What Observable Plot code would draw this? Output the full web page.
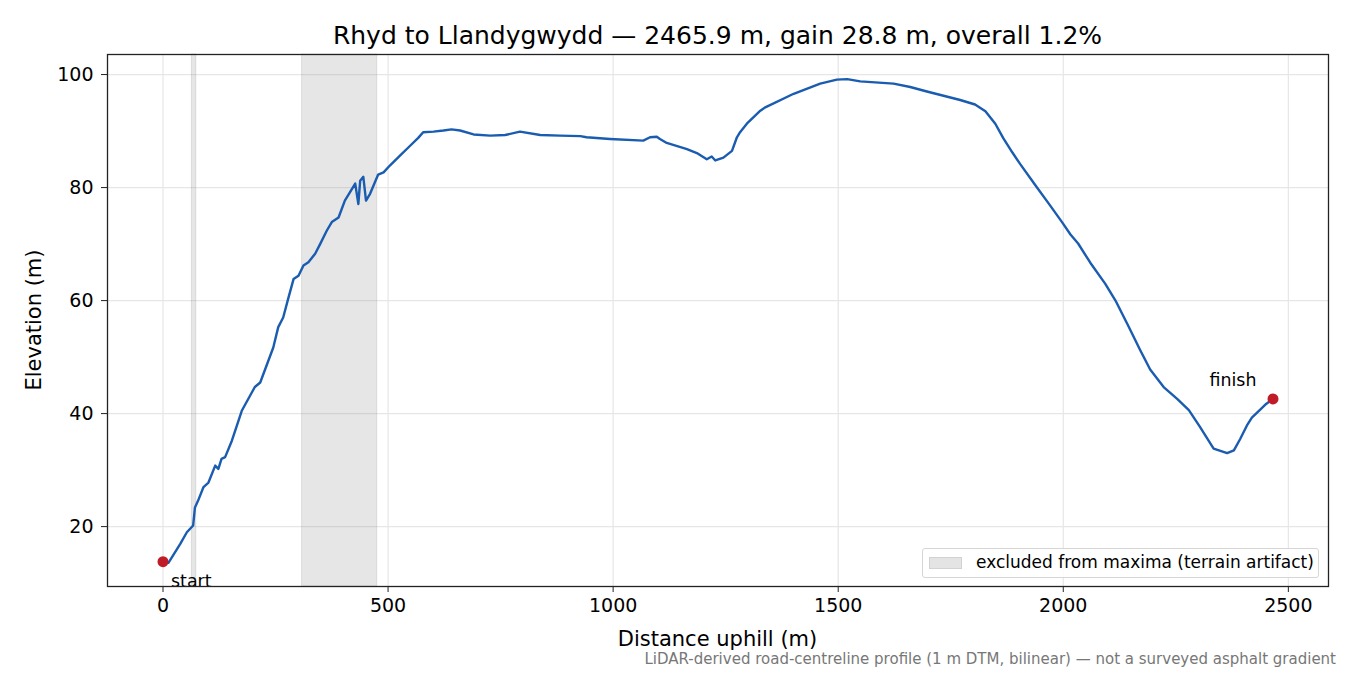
<!DOCTYPE html>
<html>
<head>
<meta charset="utf-8">
<script src="https://cdn.jsdelivr.net/npm/d3@7"></script>
<script src="https://cdn.jsdelivr.net/npm/@observablehq/plot@0.6"></script>
<style>
  html, body { margin: 0; padding: 0; background: #fff; }
  #wrap { position: relative; width: 1350px; height: 675px; font-family: "DejaVu Sans", sans-serif; color: #000; }
  #wrap svg { position: absolute; left: 0; top: 0; }
  .t { position: absolute; white-space: nowrap; line-height: 1; }
  #title { left: 0; width: 1435px; text-align: center; top: 22.5px; font-size: 25px; }
  #xlabel { left: 0; width: 1435px; text-align: center; top: 629px; font-size: 21px; }
  #ylabel { left: 34px; top: 320px; font-size: 21px; transform: translate(-50%, -50%) rotate(-90deg); }
  #caption { right: 14px; top: 651.5px; font-size: 15px; color: #777; }
  #legend { left: 922px; top: 548px; width: 397px; height: 30px; border: 1px solid #d6d6d6; border-radius: 3px; background: rgba(255,255,255,0.85); box-sizing: border-box; }
  #legend .sw { position: absolute; left: 6px; top: 8px; width: 33px; height: 12px; background: #e4e4e4; border: 1px solid #d2d2d2; box-sizing: border-box; }
  #legend .lt { position: absolute; left: 53px; top: 5px; font-size: 17px; }
</style>
</head>
<body>
<div id="wrap">
  <div id="chart"></div>
  <div class="t" id="title">Rhyd to Llandygwydd — 2465.9 m, gain 28.8 m, overall 1.2%</div>
  <div class="t" id="xlabel">Distance uphill (m)</div>
  <div class="t" id="ylabel">Elevation (m)</div>
  <div class="t" id="caption">LiDAR-derived road-centreline profile (1 m DTM, bilinear) — not a surveyed asphalt gradient</div>
  <div class="t" id="legend"><div class="sw"></div><div class="lt">excluded from maxima (terrain artifact)</div></div>
</div>
<script>
// ---- data ----
const distance = [0, 12, 38, 53, 67, 71, 78, 90, 101, 116, 123, 130, 138, 153, 175, 204, 216, 245, 256, 267, 278, 290, 301, 312, 323, 338, 349, 364, 375, 390, 404, 427, 434, 438, 445, 451, 460, 478, 490, 504, 527, 549, 567, 578, 601, 623, 641, 660, 690, 727, 760, 793, 838, 882, 927, 941, 993, 1067, 1082, 1097, 1104, 1119, 1164, 1186, 1208, 1219, 1227, 1245, 1264, 1275, 1282, 1297, 1327, 1338, 1401, 1460, 1497, 1520, 1549, 1623, 1660, 1697, 1771, 1804, 1827, 1849, 1867, 1887, 1904, 1938, 1971, 1998, 2016, 2033, 2060, 2093, 2116, 2144, 2171, 2193, 2223, 2253, 2279, 2304, 2334, 2364, 2379, 2393, 2408, 2419, 2449, 2466];
const elevation = [13.8, 13.6, 16.9, 19.0, 20.2, 23.4, 24.6, 27.0, 27.8, 30.8, 30.2, 32.0, 32.3, 35.2, 40.5, 44.7, 45.5, 51.7, 55.3, 57.0, 60.3, 63.8, 64.4, 66.2, 66.8, 68.3, 70.0, 72.4, 73.9, 74.7, 77.7, 80.7, 77.1, 81.2, 81.9, 77.7, 78.9, 82.3, 82.7, 83.9, 85.7, 87.4, 88.8, 89.8, 89.9, 90.1, 90.3, 90.1, 89.4, 89.2, 89.3, 89.9, 89.3, 89.2, 89.1, 88.9, 88.6, 88.3, 88.9, 89.0, 88.6, 87.9, 86.8, 86.1, 85.0, 85.5, 84.8, 85.3, 86.5, 88.9, 89.8, 91.3, 93.6, 94.2, 96.6, 98.4, 99.1, 99.2, 98.8, 98.4, 97.8, 97.0, 95.5, 94.7, 93.5, 91.3, 88.7, 86.2, 84.2, 80.4, 76.8, 73.8, 71.7, 70.1, 66.7, 63.0, 60.0, 55.6, 51.2, 47.8, 44.7, 42.6, 40.6, 37.6, 33.8, 33.0, 33.5, 35.5, 37.9, 39.3, 41.6, 42.6];
const excludedStart = [64, 309];
const excludedEnd = [74, 476];
const endpointLabels = ["start", "finish"];
const endpointDistance = [0, 2465.9];
const endpointElevation = [13.8, 42.6];
const xTicks = [0, 500, 1000, 1500, 2000, 2500];
const yTicks = [20, 40, 60, 80, 100];

const profile = distance.map((d, i) => ({d, e: elevation[i]}));
const bands = excludedStart.map((s, i) => ({s, e: excludedEnd[i]}));
const ends = endpointLabels.map((name, i) => ({name, d: endpointDistance[i], e: endpointElevation[i]}));

const chart = Plot.plot({
  width: 1350,
  height: 675,
  marginLeft: 107,
  marginRight: 22,
  marginTop: 54,
  marginBottom: 89,
  style: {fontFamily: "DejaVu Sans, sans-serif", background: "transparent", color: "#000"},
  x: {domain: [-123.3, 2589.2], ticks: xTicks, label: null},
  y: {domain: [9.4, 103.55], ticks: yTicks, label: null},
  marks: [
    Plot.gridX(xTicks, {stroke: "#e6e6e6", strokeOpacity: 1, strokeWidth: 1.2}),
    Plot.gridY(yTicks, {stroke: "#e6e6e6", strokeOpacity: 1, strokeWidth: 1.2}),
    Plot.rect(bands, {x1: "s", x2: "e", fill: "#808080", fillOpacity: 0.2, stroke: "#808080", strokeOpacity: 0.2, strokeWidth: 1}),
    Plot.line(profile, {x: "d", y: "e", stroke: "#1a5cb0", strokeWidth: 2.4, strokeLinejoin: "round"}),
    Plot.dot(ends, {x: "d", y: "e", fill: "#c01c28", r: 5.5}),
    Plot.text(ends.filter(d => d.name === "start"), {x: "d", y: "e", text: "name", textAnchor: "start", dx: 8, dy: 20, fontSize: 17.4}),
    Plot.text(ends.filter(d => d.name === "finish"), {x: "d", y: "e", text: "name", textAnchor: "middle", dx: -40, dy: -18, fontSize: 17.4}),
    Plot.axisX(xTicks, {tickSize: 6, tickPadding: 6, fontSize: 19, stroke: "#222", tickFormat: d3.format("d")}),
    Plot.axisY(yTicks, {tickSize: 6, tickPadding: 8, fontSize: 19, stroke: "#222", tickFormat: d3.format("d")}),
    Plot.frame({stroke: "#222", strokeWidth: 1.3})
  ]
});
document.getElementById("chart").appendChild(chart);
</script>
</body>
</html>
